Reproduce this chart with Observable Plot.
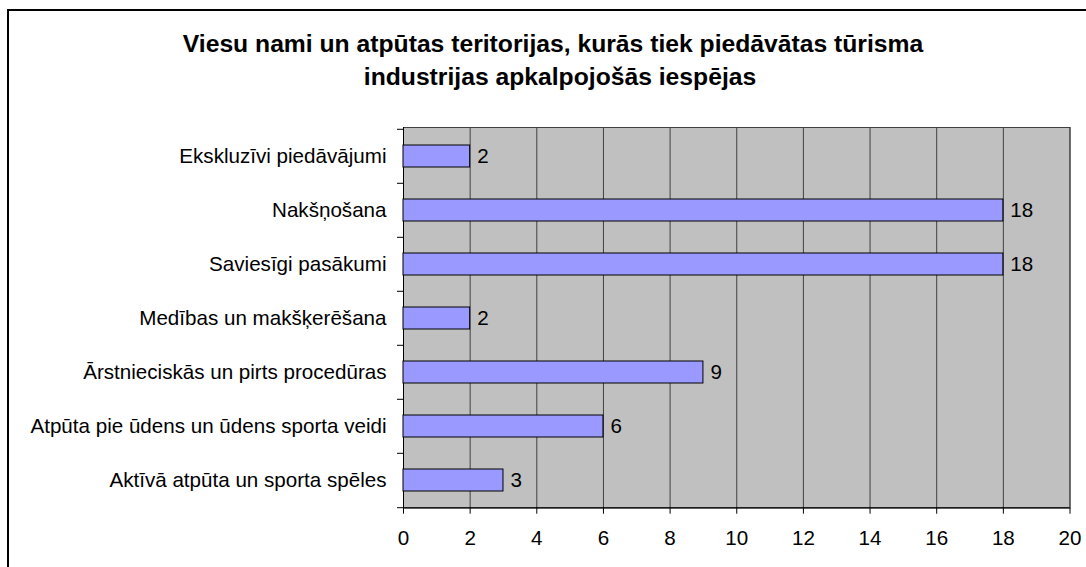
<!DOCTYPE html>
<html>
<head>
<meta charset="utf-8">
<script src="https://cdn.jsdelivr.net/npm/d3@7"></script>
<script src="https://cdn.jsdelivr.net/npm/@observablehq/plot@0.6"></script>
<style>
  html, body { margin: 0; padding: 0; background: #fff; width: 1086px; height: 567px; overflow: hidden; }
  #wrap { position: relative; width: 1086px; height: 567px; font-family: "Liberation Sans", Arial, sans-serif; }
  #border { position: absolute; left: 7px; top: 9px; width: 1200px; height: 700px; border: 2px solid #000; box-sizing: border-box; }
  .tline { position: absolute; transform: translateX(-50%); white-space: nowrap; font-weight: bold; font-size: 24.7px; line-height: 28px; color: #000; }
  #chart { position: absolute; left: 0; top: 100px; }
</style>
</head>
<body>
<div id="wrap">
  <div id="border"></div>
  <div class="tline" style="left:553px; top:30px;">Viesu nami un atpūtas teritorijas, kurās tiek piedāvātas tūrisma</div>
  <div class="tline" style="left:560px; top:63px;">industrijas apkalpojošās iespējas</div>
  <div id="chart"></div>
</div>
<script>
const categories = [
  "Ekskluzīvi piedāvājumi",
  "Nakšņošana",
  "Saviesīgi pasākumi",
  "Medības un makšķerēšana",
  "Ārstnieciskās un pirts procedūras",
  "Atpūta pie ūdens un ūdens sporta veidi",
  "Aktīvā atpūta un sporta spēles"
];
const values = [2, 18, 18, 2, 9, 6, 3];
const xTicks = [0, 2, 4, 6, 8, 10, 12, 14, 16, 18, 20];

const data = categories.map((c, i) => ({category: c, value: values[i]}));

const W = 1086, H = 467, mT = 27, mB = 59.3, mL = 403, mR = 16.5;
const step = (H - mT - mB) / categories.length;
const FS = 20.6;

const chart = Plot.plot({
  width: W,
  height: H,
  marginTop: mT,
  marginBottom: mB,
  marginLeft: mL,
  marginRight: mR,
  style: {fontFamily: "'Liberation Sans', Arial, sans-serif", fontSize: FS + "px", color: "#000", background: "transparent", overflow: "visible"},
  x: {domain: [0, 20], ticks: xTicks, label: null},
  y: {domain: categories, paddingInner: 0.6, paddingOuter: 0.3, label: null},
  marks: [
    Plot.frame({fill: "#C0C0C0", stroke: "#404040"}),
    Plot.ruleX(xTicks, {stroke: "#404040", strokeOpacity: 1}),
    Plot.ruleY(categories, {y: d => d, x1: 0, x2: 0, insetLeft: -6, dy: -step / 2, stroke: "#000", strokeOpacity: 1}),
    Plot.ruleY([categories[categories.length - 1]], {y: d => d, x1: 0, x2: 20, insetLeft: -6, dy: step / 2, stroke: "#000", strokeOpacity: 1}),
    Plot.ruleX([0], {stroke: "#000", strokeOpacity: 1}),
    Plot.barX(data, {x: "value", y: "category", fill: "#9999FF", stroke: "#000", strokeWidth: 1}),
    Plot.text(data, {x: "value", y: "category", text: d => String(d.value), textAnchor: "start", dx: 7, fill: "#000", fontSize: FS}),
    Plot.axisX({ticks: xTicks, tickSize: 6, tickPadding: 16, stroke: "#000", fill: "#000", fontSize: FS, label: null}),
    Plot.axisY({tickSize: 0, tickPadding: 17, fill: "#000", fontSize: FS, label: null})
  ]
});
document.getElementById("chart").appendChild(chart);
</script>
</body>
</html>
